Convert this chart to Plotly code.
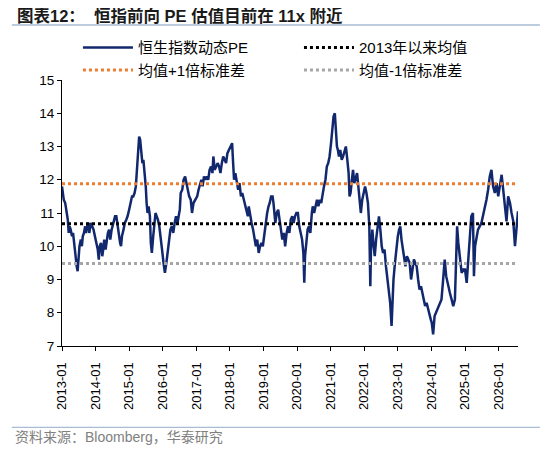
import plotly.graph_objects as go

# 恒生指数动态PE (readings, roughly twice a month)
dates = [
    "2013-01-01", "2013-01-10", "2013-01-20", "2013-02-05", "2013-02-20", "2013-03-05", "2013-03-15", "2013-03-25",
    "2013-04-05", "2013-04-20", "2013-05-01", "2013-05-15", "2013-05-28", "2013-06-10", "2013-06-20", "2013-07-01",
    "2013-07-10", "2013-07-25", "2013-08-05", "2013-08-15", "2013-08-28", "2013-09-10", "2013-09-20", "2013-10-01",
    "2013-10-15", "2013-10-25", "2013-11-10", "2013-11-25", "2013-12-10", "2013-12-25",
    "2014-01-10", "2014-01-25", "2014-02-05", "2014-02-15", "2014-03-01", "2014-03-15", "2014-03-25", "2014-04-05",
    "2014-04-20", "2014-05-01", "2014-05-15", "2014-05-28", "2014-06-10", "2014-06-25", "2014-07-05", "2014-07-20",
    "2014-08-01", "2014-08-15", "2014-08-28", "2014-09-10", "2014-09-25", "2014-10-05", "2014-10-15", "2014-11-01",
    "2014-11-15", "2014-12-01", "2014-12-15",
    "2015-01-01", "2015-01-15", "2015-02-01", "2015-02-15", "2015-03-01", "2015-03-15", "2015-03-28", "2015-04-10",
    "2015-04-20", "2015-05-01", "2015-05-10", "2015-05-25", "2015-06-05", "2015-06-20", "2015-07-01", "2015-07-10",
    "2015-07-20", "2015-08-01", "2015-08-15", "2015-08-25", "2015-09-05", "2015-09-20", "2015-10-01", "2015-10-15",
    "2015-10-28", "2015-11-10", "2015-11-25", "2015-12-10", "2015-12-25",
    "2016-01-10", "2016-01-25", "2016-02-10", "2016-02-25", "2016-03-10", "2016-03-25", "2016-04-10", "2016-04-25",
    "2016-05-10", "2016-05-25", "2016-06-10", "2016-06-25", "2016-07-05", "2016-07-15", "2016-08-01", "2016-08-15",
    "2016-09-01", "2016-09-15", "2016-10-01", "2016-10-15", "2016-11-01", "2016-11-15", "2016-12-01", "2016-12-20",
    "2017-01-10", "2017-01-25", "2017-02-10", "2017-02-25", "2017-03-10", "2017-03-25", "2017-04-10", "2017-04-25",
    "2017-05-10", "2017-05-25", "2017-06-10", "2017-06-25", "2017-07-05", "2017-07-20", "2017-08-05", "2017-08-20",
    "2017-09-05", "2017-09-20", "2017-10-05", "2017-10-20", "2017-11-05", "2017-11-20", "2017-12-05", "2017-12-20",
    "2018-01-10", "2018-01-25", "2018-02-05", "2018-02-15", "2018-03-01", "2018-03-15", "2018-04-01", "2018-04-15",
    "2018-05-01", "2018-05-15", "2018-06-01", "2018-06-15", "2018-07-01", "2018-07-15", "2018-07-25", "2018-08-10",
    "2018-08-25", "2018-09-10", "2018-09-25", "2018-10-10", "2018-10-25", "2018-11-10", "2018-11-25", "2018-12-10",
    "2018-12-25",
    "2019-01-10", "2019-01-25", "2019-02-10", "2019-02-25", "2019-03-10", "2019-03-25", "2019-04-10", "2019-04-20",
    "2019-05-10", "2019-05-25", "2019-06-10", "2019-06-25", "2019-07-10", "2019-07-25", "2019-08-10", "2019-08-25",
    "2019-09-10", "2019-09-25", "2019-10-10", "2019-10-25", "2019-11-10", "2019-11-25", "2019-12-10", "2019-12-25",
    "2020-01-10", "2020-01-25", "2020-02-10", "2020-02-25", "2020-03-10", "2020-03-20", "2020-03-28", "2020-04-10",
    "2020-04-25", "2020-05-10", "2020-05-25", "2020-06-10", "2020-06-20", "2020-07-05", "2020-07-20", "2020-08-05",
    "2020-08-20", "2020-09-05", "2020-09-20", "2020-10-05", "2020-10-20", "2020-11-05", "2020-11-20", "2020-12-05",
    "2020-12-20",
    "2021-01-05", "2021-01-20", "2021-02-01", "2021-02-15", "2021-02-25", "2021-03-10", "2021-03-20", "2021-04-01",
    "2021-04-15", "2021-05-01", "2021-05-15", "2021-06-01", "2021-06-15", "2021-07-01", "2021-07-15", "2021-07-25",
    "2021-08-05", "2021-08-20", "2021-09-01", "2021-09-15", "2021-10-01", "2021-10-15", "2021-11-01", "2021-11-15",
    "2021-11-25", "2021-12-10", "2021-12-25",
    "2022-01-10", "2022-01-25", "2022-02-10", "2022-02-25", "2022-03-08", "2022-03-15", "2022-03-30", "2022-04-10",
    "2022-04-25", "2022-05-10", "2022-05-25", "2022-06-10", "2022-06-25", "2022-07-10", "2022-07-25", "2022-08-10",
    "2022-08-25", "2022-09-10", "2022-09-25", "2022-10-10", "2022-10-25", "2022-11-05", "2022-11-15", "2022-12-01",
    "2022-12-15",
    "2023-01-01", "2023-01-15", "2023-01-28", "2023-02-10", "2023-02-25", "2023-03-10", "2023-03-25", "2023-04-10",
    "2023-04-25", "2023-05-10", "2023-05-25", "2023-06-10", "2023-06-25", "2023-07-10", "2023-07-25", "2023-08-10",
    "2023-08-25", "2023-09-10", "2023-09-25", "2023-10-10", "2023-10-25", "2023-11-10", "2023-11-25", "2023-12-10",
    "2023-12-25",
    "2024-01-05", "2024-01-20", "2024-02-05", "2024-02-20", "2024-03-15", "2024-04-01", "2024-04-20", "2024-05-05",
    "2024-05-25", "2024-06-10", "2024-07-01", "2024-07-20", "2024-08-08", "2024-08-26", "2024-09-13", "2024-09-25",
    "2024-10-07", "2024-10-20", "2024-11-07", "2024-11-25", "2024-12-14",
    "2025-01-01", "2025-01-19", "2025-02-06", "2025-02-21", "2025-03-10", "2025-03-28", "2025-04-08", "2025-04-20",
    "2025-05-22", "2025-06-28", "2025-07-16", "2025-08-04", "2025-08-22", "2025-09-09", "2025-09-27", "2025-10-15",
    "2025-11-02", "2025-11-21", "2025-12-10", "2025-12-28",
    "2026-01-15", "2026-02-03", "2026-02-20", "2026-03-10", "2026-03-28", "2026-04-15", "2026-05-05", "2026-05-22",
    "2026-06-10", "2026-06-28", "2026-07-16", "2026-07-31",
]
pe = [
    11.8, 11.6, 11.4, 11.3, 11.0, 10.8, 10.4, 10.6,
    10.5, 10.3, 10.4, 10.0, 9.7, 9.4, 9.25, 9.6,
    10.0, 10.2, 10.0, 10.3, 10.4, 10.6, 10.4, 10.6,
    10.7, 10.4, 10.7, 10.6, 10.5, 10.3,
    10.1, 9.9, 9.6, 10.0, 10.1, 9.7, 9.9, 10.2,
    9.9, 10.2, 10.4, 10.5, 10.2, 10.5, 10.6, 10.8,
    10.9, 10.9, 10.6, 10.3, 10.1, 10.0, 10.3, 10.5,
    10.7, 10.8, 10.9,
    11.1, 11.3, 11.5, 11.5, 11.6, 11.8, 12.4, 13.0,
    13.3, 13.2, 12.9, 12.5, 12.6, 12.2, 11.8, 11.3,
    11.0, 11.2, 10.9, 10.1, 9.8, 10.3, 10.7, 11.0,
    10.9, 10.8, 10.6, 10.3, 9.9,
    9.5, 9.2, 9.5, 9.9, 10.2, 10.5, 10.6, 10.4,
    10.7, 10.9, 10.7, 10.9, 11.1, 11.6, 11.7, 12.0,
    12.1, 11.9, 11.7, 11.5, 11.4, 11.0, 11.3, 11.4,
    11.5, 11.7, 11.9, 12.0, 11.8, 12.1, 12.0, 12.1,
    12.0, 12.3, 12.4, 12.2, 12.7, 12.3, 12.4, 12.5,
    12.4, 12.2, 12.5, 12.7, 12.6, 12.5, 12.8, 12.9,
    13.0, 13.1, 12.5, 12.0, 12.2, 11.9, 11.7, 11.9,
    11.5, 11.6, 11.4, 11.2, 11.1, 10.9, 11.2, 10.9,
    10.7, 10.5, 10.3, 10.0, 10.2, 9.8, 10.0, 10.1,
    10.0,
    10.4, 10.7, 11.0, 11.2, 11.3, 11.5, 11.5, 11.3,
    10.7, 11.0, 11.1, 10.8, 10.5, 10.2, 10.4, 10.0,
    10.4, 10.6, 10.4, 10.8, 10.9, 10.7, 10.9, 11.0,
    11.0, 10.6, 10.4, 10.2, 9.8, 8.9, 9.7, 10.2,
    10.5, 10.6, 10.4, 11.0, 11.2, 11.0, 11.2, 11.4,
    11.2, 11.4, 11.3, 11.6, 11.8, 12.0, 12.4, 12.5,
    12.7,
    13.1, 13.6, 13.9, 14.0, 13.4, 13.0, 12.9, 12.7,
    12.9, 12.6, 12.7, 12.9, 13.0, 12.6, 12.2, 11.5,
    11.6, 12.0, 12.3, 11.9, 12.1, 12.2, 11.7, 11.2,
    11.0, 11.4, 11.6,
    11.8, 11.6, 11.3, 10.6, 8.8, 9.9, 10.5, 10.1,
    9.7, 10.2, 10.6, 10.9, 10.5, 10.0, 9.8, 9.9,
    9.4, 9.0, 8.6, 8.3, 7.6, 8.4, 9.0, 9.5,
    9.9,
    10.3, 10.5, 10.6, 10.2, 9.9, 9.6, 9.4, 9.7,
    9.6, 9.5, 9.0, 9.4, 9.6, 9.5, 9.4, 9.0,
    8.7, 8.8, 8.6, 8.5, 8.2, 8.3, 8.1, 7.9,
    7.8,
    7.7, 7.35, 7.9, 8.0, 8.2, 8.3, 8.4, 8.9,
    9.6, 9.1, 8.8, 8.6, 8.4, 8.2, 8.4, 9.6,
    10.6, 10.1, 9.6, 9.2, 9.3,
    9.3, 8.9, 9.6, 10.1, 10.9, 11.0, 9.1, 10.0,
    10.5, 10.7, 10.9, 11.2, 11.4, 11.7, 12.1, 12.3,
    11.8, 11.6, 11.9, 11.5,
    11.8, 12.15, 11.7, 11.1, 10.75, 11.5, 11.3, 11.0,
    10.75, 10.0, 10.7, 11.05,
]

mean_pe = 10.68
plus_sd = 11.88
minus_sd = 9.48
x_start = "2013-01-01"
x_end = "2026-07-31"

FONT = "Liberation Sans, Arial, Noto Sans CJK SC, sans-serif"
NAVY = "#12286e"

fig = go.Figure()
fig.add_trace(go.Scatter(
    x=dates, y=pe, mode="lines", name="恒生指数动态PE",
    line=dict(color=NAVY, width=2.5)
))
fig.add_trace(go.Scatter(
    x=[x_start, x_end], y=[mean_pe, mean_pe], mode="lines", name="2013年以来均值",
    line=dict(color="black", width=3, dash="dot")
))
fig.add_trace(go.Scatter(
    x=[x_start, x_end], y=[plus_sd, plus_sd], mode="lines", name="均值+1倍标准差",
    line=dict(color="#ed7d31", width=3, dash="dot")
))
fig.add_trace(go.Scatter(
    x=[x_start, x_end], y=[minus_sd, minus_sd], mode="lines", name="均值-1倍标准差",
    line=dict(color="#a6a6a6", width=3, dash="dot")
))

# the page puts the figure 8px in from the top-left corner
fig.update_layout(
    width=542, height=445,
    margin=dict(l=54, r=32, t=72, b=107),
    paper_bgcolor="white", plot_bgcolor="white",
    font=dict(family=FONT, size=14, color="black"),
    showlegend=True,
    legend=dict(
        orientation="h", x=0.035, y=1.183, xref="paper", yref="paper",
        xanchor="left", yanchor="top",
        entrywidth=156, entrywidthmode="pixels",
        font=dict(size=15, family=FONT), tracegroupgap=0,
        itemwidth=50, bgcolor="rgba(0,0,0,0)",
    ),
    xaxis=dict(
        type="date", range=[x_start, x_end],
        tick0="2013-01-01", dtick="M12", tickformat="%Y-%m",
        tickangle=-90, ticks="outside", ticklen=4, tickcolor="black",
        ticklabelstandoff=6,
        showline=True, linecolor="black", linewidth=1,
        showgrid=False, zeroline=False,
        tickfont=dict(size=13, family=FONT),
    ),
    yaxis=dict(
        range=[7, 15], dtick=1, ticks="outside", ticklen=4, tickcolor="black",
        showline=True, linecolor="black", linewidth=1,
        showgrid=False, zeroline=False,
        tickfont=dict(size=13.5, family=FONT),
    ),
)

# title, rule lines and source note
fig.add_annotation(
    text="<b>图表12：  恒指前向 PE 估值目前在 11x 附近</b>",
    xref="paper", yref="paper", x=-0.103, y=1.2406,
    xanchor="left", yanchor="middle", showarrow=False,
    font=dict(size=16.5, family=FONT, color="#1a1a1a"),
)
fig.add_shape(type="line", xref="paper", yref="paper",
              x0=-0.11, x1=1.048, y0=1.2068, y1=1.2068,
              line=dict(color="#a9bcd3", width=1.3))
fig.add_shape(type="line", xref="paper", yref="paper",
              x0=-0.11, x1=1.048, y0=-0.306, y1=-0.306,
              line=dict(color="#a9bcd3", width=1.3))
fig.add_annotation(
    text="资料来源：Bloomberg，华泰研究",
    xref="paper", yref="paper", x=-0.107, y=-0.342,
    xanchor="left", yanchor="middle", showarrow=False,
    font=dict(size=14, family=FONT, color="#808080"),
)

fig.write_html("out.html")
